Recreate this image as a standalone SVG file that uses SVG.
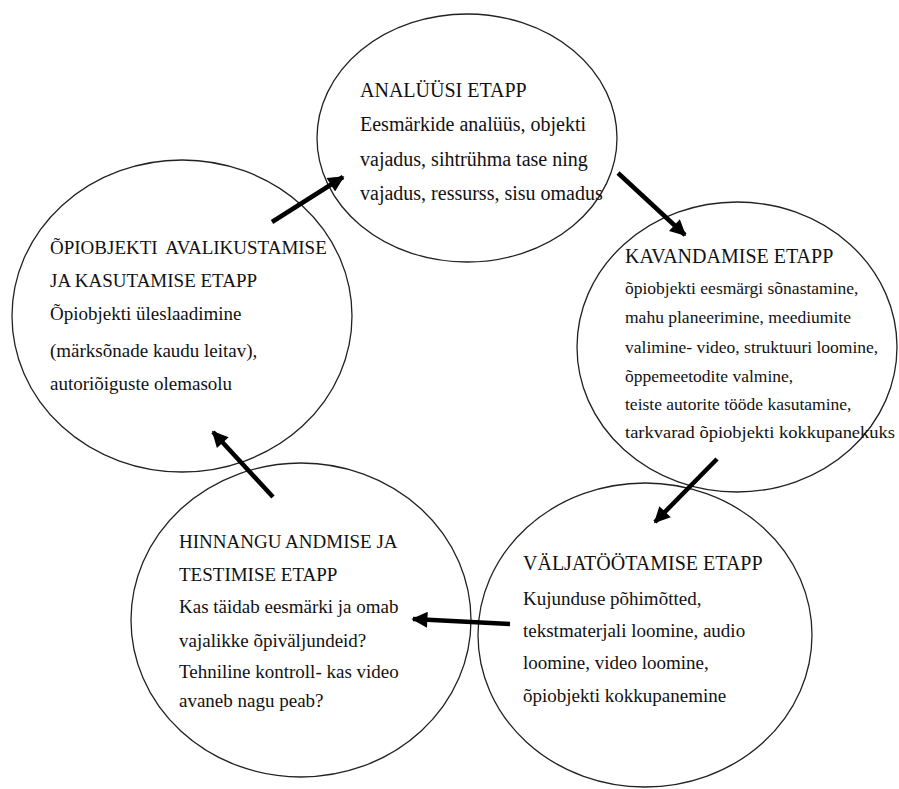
<svg xmlns="http://www.w3.org/2000/svg" width="899" height="789" viewBox="0 0 899 789">
<style>
.c{fill:none;stroke:#222;stroke-width:1.3}
.t{font-family:"Liberation Serif","Times New Roman",serif;fill:#111}
.h{font-size:20px}
.b{font-size:19px}
.s{font-size:17.5px}
.a{stroke:#000;stroke-width:4.5;fill:none;marker-end:url(#ah)}
</style>
<defs>
<marker id="ah" viewBox="0 0 10 10" refX="9" refY="5" markerUnits="userSpaceOnUse" markerWidth="20" markerHeight="16" orient="auto">
<path d="M0,0 L10,5 L0,10 z" fill="#000"/>
</marker>
</defs>
<rect width="899" height="789" fill="#fff"/>
<g id="n1">
<ellipse class="c" cx="467" cy="138" rx="150" ry="124"/>
<text class="t h" x="360" y="97">ANALÜÜSI ETAPP</text>
<text class="t h" x="360" y="131">Eesmärkide analüüs, objekti</text>
<text class="t h" x="360" y="166">vajadus, sihtrühma tase ning</text>
<text class="t h" x="360" y="200">vajadus, ressurss, sisu omadus</text>
</g>
<g id="n2">
<ellipse class="c" cx="737" cy="347" rx="160" ry="145"/>
<text class="t h" x="625" y="263">KAVANDAMISE ETAPP</text>
<text class="t s" x="625" y="294">õpiobjekti eesmärgi sõnastamine,</text>
<text class="t s" x="625" y="323">mahu planeerimine, meediumite</text>
<text class="t s" x="625" y="353">valimine- video, struktuuri loomine,</text>
<text class="t s" x="625" y="382">õppemeetodite valmine,</text>
<text class="t s" x="625" y="410">teiste autorite tööde kasutamine,</text>
<text class="t s" x="625" y="438" textLength="270" lengthAdjust="spacingAndGlyphs">tarkvarad õpiobjekti kokkupanekuks</text>
</g>
<g id="n3">
<ellipse class="c" cx="645" cy="635" rx="167" ry="152"/>
<text class="t h" x="523" y="570">VÄLJATÖÖTAMISE ETAPP</text>
<text class="t b" x="523" y="605">Kujunduse põhimõtted,</text>
<text class="t b" x="523" y="637">tekstmaterjali loomine, audio</text>
<text class="t b" x="523" y="669">loomine, video loomine,</text>
<text class="t b" x="523" y="702">õpiobjekti kokkupanemine</text>
</g>
<g id="n4">
<ellipse class="c" cx="301" cy="620" rx="170" ry="157"/>
<text class="t b" x="179" y="548">HINNANGU ANDMISE JA</text>
<text class="t b" x="179" y="581">TESTIMISE ETAPP</text>
<text class="t b" x="179" y="613">Kas täidab eesmärki ja omab</text>
<text class="t b" x="179" y="647">vajalikke õpiväljundeid?</text>
<text class="t b" x="179" y="678">Tehniline kontroll- kas video</text>
<text class="t b" x="179" y="707">avaneb nagu peab?</text>
</g>
<g id="n5">
<ellipse class="c" cx="182" cy="316" rx="170" ry="156"/>
<text class="t b" x="50" y="254" word-spacing="4">ÕPIOBJEKTI AVALIKUSTAMISE</text>
<text class="t b" x="50" y="287">JA KASUTAMISE ETAPP</text>
<text class="t b" x="50" y="320">Õpiobjekti üleslaadimine</text>
<text class="t b" x="50" y="357">(märksõnade kaudu leitav),</text>
<text class="t b" x="50" y="390">autoriõiguste olemasolu</text>
</g>
<g id="connectors">
<line class="a" x1="272" y1="222" x2="343" y2="177"/>
<line class="a" x1="618" y1="173" x2="685" y2="235"/>
<line class="a" x1="717" y1="459" x2="655" y2="522"/>
<line class="a" x1="510" y1="624" x2="413" y2="619"/>
<line class="a" x1="273" y1="497" x2="213" y2="432"/>
</g>
</svg>
